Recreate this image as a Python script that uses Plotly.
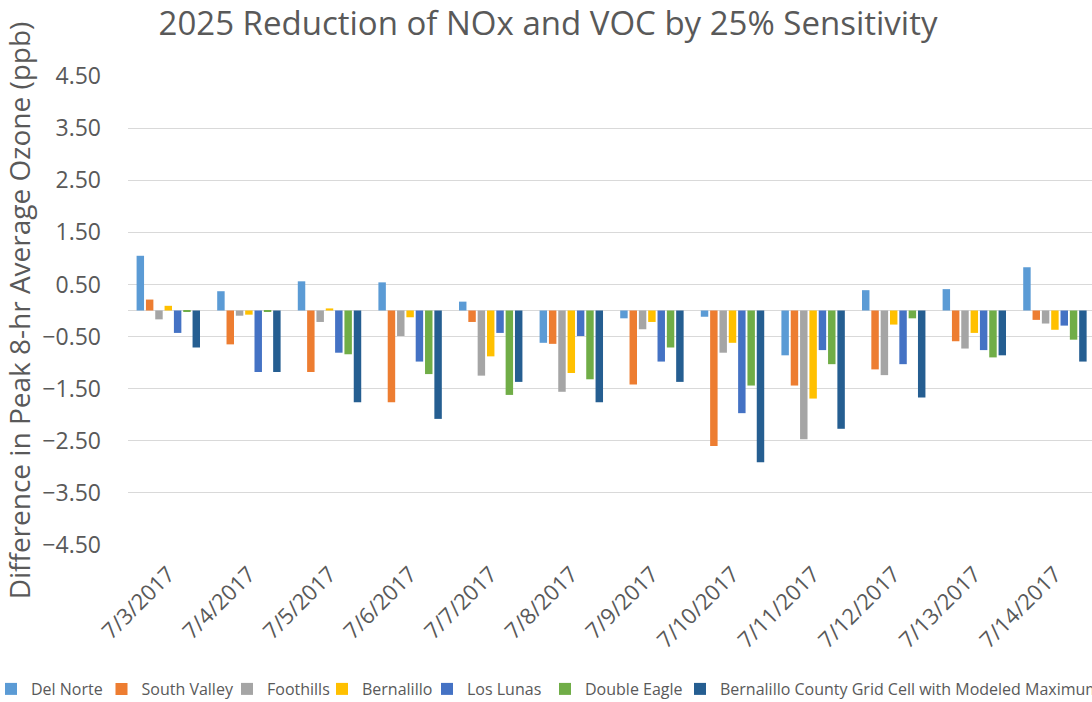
import plotly.graph_objects as go

# Episode dates (category axis)
dates = ["7/3/2017", "7/4/2017", "7/5/2017", "7/6/2017", "7/7/2017", "7/8/2017",
         "7/9/2017", "7/10/2017", "7/11/2017", "7/12/2017", "7/13/2017", "7/14/2017"]

# Difference in peak 8-hr average ozone (ppb) per monitor
del_norte = [1.05, 0.37, 0.56, 0.54, 0.17, -0.62, -0.15, -0.12, -0.86, 0.39, 0.41, 0.83]
south_valley = [0.21, -0.65, -1.18, -1.76, -0.22, -0.64, -1.42, -2.60, -1.44, -1.13, -0.59, -0.18]
foothills = [-0.17, -0.10, -0.22, -0.49, -1.25, -1.56, -0.36, -0.81, -2.47, -1.24, -0.73, -0.25]
bernalillo = [0.09, -0.08, 0.04, -0.13, -0.88, -1.20, -0.22, -0.62, -1.69, -0.27, -0.43, -0.37]
los_lunas = [-0.43, -1.18, -0.81, -0.98, -0.43, -0.49, -0.98, -1.97, -0.76, -1.03, -0.76, -0.29]
double_eagle = [-0.01, -0.02, -0.84, -1.22, -1.62, -1.32, -0.71, -1.44, -1.03, -0.15, -0.90, -0.56]
grid_max = [-0.71, -1.18, -1.76, -2.08, -1.37, -1.76, -1.37, -2.91, -2.27, -1.67, -0.86, -0.98]

series_names = ["Del Norte", "South Valley", "Foothills", "Bernalillo", "Los Lunas",
                "Double Eagle", "Bernalillo County Grid Cell with Modeled Maximum"]
series_values = [del_norte, south_valley, foothills, bernalillo, los_lunas,
                 double_eagle, grid_max]
series_colors = ["#5B9BD5", "#ED7D31", "#A5A5A5", "#FFC000", "#4472C4",
                 "#70AD47", "#255E91"]

y_ticks = [4.5, 3.5, 2.5, 1.5, 0.5, -0.5, -1.5, -2.5, -3.5, -4.5]

W, H = 1092, 702
FONT = "Open Sans"
GREY = "#595959"

# legend swatch centres along the bottom row (px)
legend_swatch_x = [22.5, 130.5, 256, 351, 456, 574, 709]

fig = go.Figure()
for i, (name, vals, col) in enumerate(zip(series_names, series_values, series_colors)):
    leg = "legend" if i == 0 else f"legend{i + 1}"
    fig.add_trace(go.Bar(
        x=dates, y=vals, name=name, marker=dict(color=col, line=dict(width=0)),
        legend=leg,
    ))

layout_legends = {}
for i, sx in enumerate(legend_swatch_x):
    key = "legend" if i == 0 else f"legend{i + 1}"
    left = max(sx - 29, 0)
    layout_legends[key] = dict(
        orientation="h", xref="container", yref="container",
        x=left / W, xanchor="left",
        y=1 - 689 / H, yanchor="middle",
        indentation=-9 if i == 0 else 0,
        font=dict(family=FONT, size=16, color=GREY),
        bgcolor="rgba(0,0,0,0)", borderwidth=0,
    )

fig.update_layout(
    width=W, height=H,
    margin=dict(l=128, r=0, t=75.7, b=157, autoexpand=False),
    paper_bgcolor="white", plot_bgcolor="white",
    barmode="group", bargap=0.19, bargroupgap=0.2,
    showlegend=True,
    title=dict(
        text="2025 Reduction of NOx and VOC by 25% Sensitivity",
        xref="container", yref="container", x=548 / W, xanchor="center",
        y=1 - 23 / H, yanchor="middle",
        font=dict(family=FONT, size=33, color=GREY),
    ),
    xaxis=dict(
        type="category", range=[-0.5, 11.46],
        tickangle=-45, showgrid=False, showline=False, zeroline=False,
        tickfont=dict(family=FONT, size=22, color=GREY),
        ticks="", ticklabelstandoff=11,
    ),
    yaxis=dict(
        range=[-4.5, 4.5], tickvals=y_ticks, tickformat=".2f",
        showgrid=True, gridcolor="#D9D9D9", gridwidth=1,
        zeroline=True, zerolinecolor="#D9D9D9", zerolinewidth=1,
        showline=False, ticks="", ticklabelstandoff=26,
        tickfont=dict(family=FONT, size=23, color=GREY),
        title=dict(text="Difference in Peak 8-hr Average Ozone (ppb)",
                   font=dict(family=FONT, size=28, color=GREY), standoff=6),
    ),
    **layout_legends,
)

fig.write_html("out.html")
